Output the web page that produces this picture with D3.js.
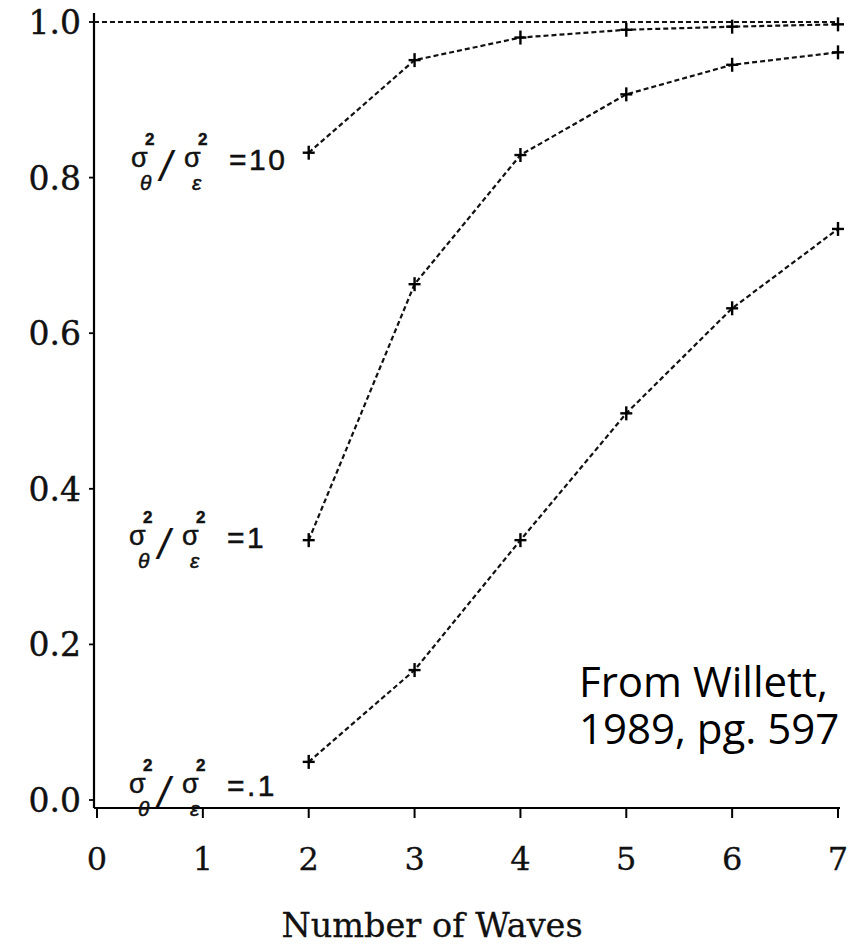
<!DOCTYPE html>
<html><head><meta charset="utf-8">
<script src="https://cdn.jsdelivr.net/npm/d3@7"></script>
<style>html,body{margin:0;padding:0;background:#fff;}svg{display:block;}</style>
</head><body><svg id="c" width="861" height="945"></svg>
<script>
// ---- data ----
const waves = [2, 3, 4, 5, 6, 7];
const ratio10 = [0.832, 0.951, 0.980, 0.990, 0.994, 0.997];
const ratio1  = [0.334, 0.663, 0.829, 0.907, 0.945, 0.961];
const ratio01 = [0.049, 0.167, 0.334, 0.497, 0.632, 0.734];
const seriesRatios = ["10", "1", ".1"];
const xTicks = [0, 1, 2, 3, 4, 5, 6, 7];
const yTicks = [0, 0.2, 0.4, 0.6, 0.8, 1.0];
const yTickLabels = ["0.0", "0.2", "0.4", "0.6", "0.8", "1.0"];
const refValue = 1.0;
const xTitle = "Number of Waves";
const noteLines = ["From Willett,", "1989, pg. 597"];

// ---- layout ----
const svg = d3.select("#c");
const x = d3.scaleLinear().domain([0, 7]).range([97, 838]);
const y = d3.scaleLinear().domain([0, 1]).range([800, 22]);
const axisX = 94, axisY = 808;
const serif = "'DejaVu Serif', serif";
const ink = "#111";

// axes lines
svg.append("line").attr("x1", axisX).attr("x2", axisX).attr("y1", 13).attr("y2", axisY)
  .attr("stroke", "#000").attr("stroke-width", 2.2);
svg.append("line").attr("x1", axisX).attr("x2", x(7) + 2).attr("y1", axisY).attr("y2", axisY)
  .attr("stroke", "#000").attr("stroke-width", 1.8);

// y ticks
const yg = svg.append("g");
yTicks.forEach((v, i) => {
  yg.append("line").attr("x1", axisX - 5).attr("x2", axisX).attr("y1", y(v)).attr("y2", y(v))
    .attr("stroke", "#000").attr("stroke-width", 1.8);
  yg.append("text").attr("x", 81).attr("y", y(v) + 12).attr("text-anchor", "end")
    .attr("font-family", serif).attr("font-size", 33).attr("fill", ink)
    .attr("stroke", ink).attr("stroke-width", 0.4).text(yTickLabels[i]);
});
// x ticks
const xg = svg.append("g");
xTicks.forEach(v => {
  xg.append("line").attr("x1", x(v)).attr("x2", x(v)).attr("y1", axisY).attr("y2", axisY + 10)
    .attr("stroke", "#000").attr("stroke-width", 2);
  xg.append("text").attr("x", x(v)).attr("y", 870).attr("text-anchor", "middle")
    .attr("font-family", serif).attr("font-size", 32).attr("fill", ink)
    .attr("stroke", ink).attr("stroke-width", 0.3).text(v);
});
svg.append("text").attr("x", 432).attr("y", 937).attr("text-anchor", "middle")
  .attr("font-family", serif).attr("font-size", 33.5).attr("fill", ink)
  .attr("stroke", ink).attr("stroke-width", 0.3).text(xTitle);

// reference line at 1.0
svg.append("line").attr("x1", axisX).attr("x2", x(7)).attr("y1", y(refValue)).attr("y2", y(refValue))
  .attr("stroke", "#111").attr("stroke-width", 2.2).attr("stroke-dasharray", "5,3");

// series
const series = [ratio10, ratio1, ratio01];
const line = d3.line().x((d, i) => x(waves[i])).y(d => y(d));
series.forEach(s => {
  svg.append("path").attr("d", line(s)).attr("fill", "none").attr("stroke", "#111")
    .attr("stroke-width", 2.2).attr("stroke-dasharray", "5,3");
  const m = svg.append("g");
  s.forEach((d, i) => {
    const cx = x(waves[i]), cy = y(d);
    m.append("line").attr("x1", cx - 6).attr("x2", cx + 6).attr("y1", cy).attr("y2", cy)
      .attr("stroke", "#000").attr("stroke-width", 2.4);
    m.append("line").attr("x1", cx).attr("x2", cx).attr("y1", cy - 7).attr("y2", cy + 7)
      .attr("stroke", "#000").attr("stroke-width", 2.4);
  });
});

// labels
const labelPos = [[131, 167], [129, 545], [129, 793]];
const sans = "'Liberation Sans', Arial, sans-serif";
seriesRatios.forEach((r, k) => {
  const [x0, b] = labelPos[k];
  const g = svg.append("g").attr("fill", ink).attr("stroke", ink).attr("stroke-width", 0.5)
    .attr("font-family", sans);
  g.append("text").attr("x", x0).attr("y", b).attr("font-size", 27).text("σ");
  g.append("text").attr("x", x0 + 14).attr("y", b - 22).attr("font-size", 17).attr("font-weight", "bold").text("2");
  g.append("text").attr("x", x0 + 9).attr("y", b + 23).attr("font-size", 21).attr("font-style", "italic").text("θ");
  g.append("text").attr("x", x0 + 29).attr("y", b + 14).attr("font-size", 42).attr("font-style", "italic").attr("stroke-width", 0.2).text("/");
  g.append("text").attr("x", x0 + 53).attr("y", b).attr("font-size", 27).text("σ");
  g.append("text").attr("x", x0 + 67).attr("y", b - 22).attr("font-size", 17).attr("font-weight", "bold").text("2");
  g.append("text").attr("x", x0 + 61).attr("y", b + 23).attr("font-size", 21).attr("font-style", "italic").text("ε");
  g.append("text").attr("x", x0 + 98).attr("y", b + 3).attr("font-size", 30).attr("letter-spacing", 2.5).text("=" + r);
});

// note
noteLines.forEach((t, i) => {
  svg.append("text").attr("font-family", "'Open Sans', 'Noto Sans', sans-serif")
    .attr("font-size", 42).attr("fill", "#000")
    .attr("x", 579).attr("y", 697 + i * 47).text(t);
});
</script></body></html>
